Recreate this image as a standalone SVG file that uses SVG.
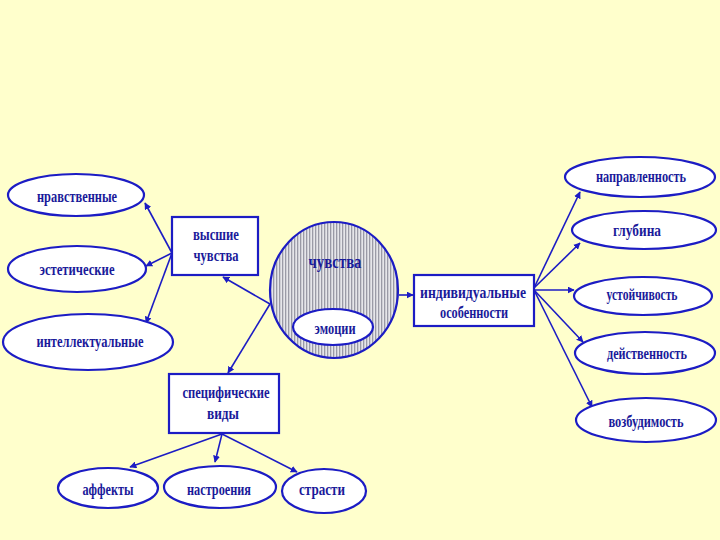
<svg xmlns="http://www.w3.org/2000/svg" width="720" height="540" viewBox="0 0 720 540">
<defs>
<pattern id="stripes" width="3" height="4" patternUnits="userSpaceOnUse">
<rect width="3" height="4" fill="#e6e6ea"/>
<rect x="0" width="1.3" height="4" fill="#9a9aa6"/>
</pattern>
<marker id="ah" viewBox="0 0 10 10" refX="9" refY="5" markerWidth="7" markerHeight="7" orient="auto" markerUnits="userSpaceOnUse">
<path d="M0,0 L10,5 L0,10 z" fill="#1c1cc4"/>
</marker>
<style>
.n{fill:#ffffff;stroke:#1c1cc4;stroke-width:2.2}
.t{font-family:"Liberation Serif","Times New Roman",serif;font-weight:bold;font-size:17px;fill:#1a1a9a;text-anchor:middle}
.c line{stroke:#1c1cc4;stroke-width:1.6;marker-end:url(#ah)}
</style>
</defs>
<rect width="720" height="540" fill="#ffffcc"/>
<g class="c" id="connectors">
<line x1="172" y1="253" x2="145" y2="203"/>
<line x1="172" y1="253" x2="146" y2="266"/>
<line x1="172" y1="253" x2="146" y2="323"/>
<line x1="270" y1="304" x2="223" y2="277"/>
<line x1="270" y1="304" x2="228" y2="373"/>
<line x1="399" y1="295" x2="413" y2="295"/>
<line x1="534" y1="288" x2="580" y2="192"/>
<line x1="534" y1="288" x2="580" y2="243"/>
<line x1="534" y1="290" x2="574" y2="290"/>
<line x1="534" y1="290" x2="583" y2="342"/>
<line x1="534" y1="290" x2="592" y2="407"/>
<line x1="222" y1="434" x2="130" y2="467"/>
<line x1="222" y1="434" x2="215" y2="462"/>
<line x1="222" y1="434" x2="297" y2="472"/>
</g>
<g id="nravstvennye"><ellipse class="n" cx="76" cy="195" rx="68" ry="21"/><text class="t" x="77" y="202" textLength="80" lengthAdjust="spacingAndGlyphs">нравственные</text></g>
<g id="esteticheskie"><ellipse class="n" cx="77" cy="269" rx="69" ry="23"/><text class="t" x="77" y="275" textLength="75" lengthAdjust="spacingAndGlyphs">эстетические</text></g>
<g id="intellektualnye"><ellipse class="n" cx="88" cy="342" rx="85" ry="28"/><text class="t" x="90" y="347" textLength="107" lengthAdjust="spacingAndGlyphs">интеллектуальные</text></g>
<g id="vysshie"><rect class="n" x="172" y="217" width="86" height="58"/><text class="t" x="216" y="240" textLength="46" lengthAdjust="spacingAndGlyphs">высшие</text><text class="t" x="216" y="261" textLength="45" lengthAdjust="spacingAndGlyphs">чувства</text></g>
<g id="chuvstva"><ellipse cx="334" cy="290" rx="64" ry="68" fill="url(#stripes)" stroke="#1c1cc4" stroke-width="2.2"/><text class="t" x="335" y="268" style="font-size:19px" textLength="53" lengthAdjust="spacingAndGlyphs">чувства</text></g>
<g id="emocii"><ellipse class="n" cx="333" cy="327" rx="40" ry="18"/><text class="t" x="335" y="334" textLength="41" lengthAdjust="spacingAndGlyphs">эмоции</text></g>
<g id="individualnye"><rect class="n" x="414" y="275" width="120" height="51"/><text class="t" x="473" y="298" textLength="106" lengthAdjust="spacingAndGlyphs">индивидуальные</text><text class="t" x="474" y="318" textLength="68" lengthAdjust="spacingAndGlyphs">особенности</text></g>
<g id="napravlennost"><ellipse class="n" cx="640" cy="177" rx="75" ry="20"/><text class="t" x="641" y="182" textLength="90" lengthAdjust="spacingAndGlyphs">направленность</text></g>
<g id="glubina"><ellipse class="n" cx="644" cy="230" rx="72" ry="19"/><text class="t" x="637" y="236" textLength="48" lengthAdjust="spacingAndGlyphs">глубина</text></g>
<g id="ustoichivost"><ellipse class="n" cx="643" cy="296" rx="69" ry="19"/><text class="t" x="642" y="300" textLength="71" lengthAdjust="spacingAndGlyphs">устойчивость</text></g>
<g id="deistvennost"><ellipse class="n" cx="645" cy="353" rx="70" ry="21"/><text class="t" x="647" y="359" textLength="80" lengthAdjust="spacingAndGlyphs">действенность</text></g>
<g id="vozbudimost"><ellipse class="n" cx="646" cy="420" rx="70" ry="22"/><text class="t" x="646" y="427" textLength="75" lengthAdjust="spacingAndGlyphs">возбудимость</text></g>
<g id="specificheskie"><rect class="n" x="169" y="374" width="110" height="59"/><text class="t" x="226" y="398" textLength="87" lengthAdjust="spacingAndGlyphs">специфические</text><text class="t" x="223" y="419" textLength="32" lengthAdjust="spacingAndGlyphs">виды</text></g>
<g id="affekty"><ellipse class="n" cx="108" cy="488" rx="50" ry="20"/><text class="t" x="108" y="495" textLength="51" lengthAdjust="spacingAndGlyphs">аффекты</text></g>
<g id="nastroeniya"><ellipse class="n" cx="220" cy="487" rx="56" ry="21"/><text class="t" x="219" y="495" textLength="64" lengthAdjust="spacingAndGlyphs">настроения</text></g>
<g id="strasti"><ellipse class="n" cx="324" cy="491" rx="42" ry="22"/><text class="t" x="322" y="495" textLength="46" lengthAdjust="spacingAndGlyphs">страсти</text></g>
</svg>
